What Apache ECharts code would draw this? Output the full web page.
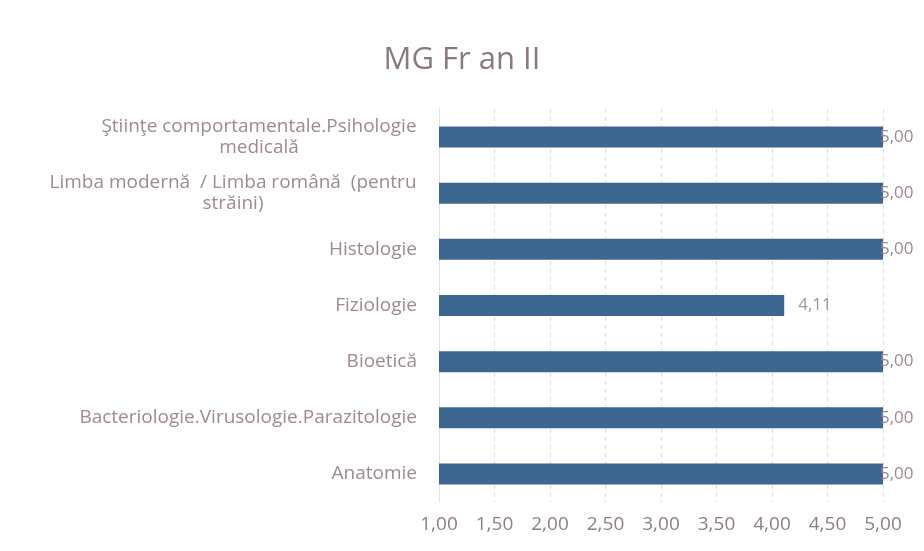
<!DOCTYPE html>
<html>
<head>
<meta charset="utf-8">
<script src="https://cdn.jsdelivr.net/npm/echarts@6/dist/echarts.min.js"></script>
<style>
  html, body { margin: 0; padding: 0; background: #fff; }
  #chart { width: 924px; height: 551px; }
</style>
</head>
<body>
<div id="chart"></div>
<script>
const title = "MG Fr an II";

// bottom to top, as on the axis
const subjects = [
  "Anatomie",
  "Bacteriologie.Virusologie.Parazitologie",
  "Bioetică",
  "Fiziologie",
  "Histologie",
  "Limba modernă  / Limba română  (pentru\nstrăini)",
  "Ştiinţe comportamentale.Psihologie\nmedicală",
];
const scores = [5.0, 5.0, 5.0, 4.11, 5.0, 5.0, 5.0];

const axisTicks = [1, 1.5, 2, 2.5, 3, 3.5, 4, 4.5, 5];

const FONT = "Open Sans";
const FS = 19;
const labelColor = "#9e8a92";

const fmt = (v) => Number(v).toFixed(2).replace(".", ",");

// width of the first line, so wrapped labels get centred lines in a right-aligned block
const measure = (() => {
  const ctx = document.createElement("canvas").getContext("2d");
  ctx.font = `${FS}px ${FONT}`;
  return (s) => Math.ceil(ctx.measureText(s).width);
})();

const rich = {};
subjects.forEach((s, i) => {
  if (s.includes("\n")) {
    rich["w" + i] = { width: measure(s.split("\n")[0]), align: "center", lineHeight: 21, color: labelColor, fontSize: FS, fontFamily: FONT };
  }
});

const chart = echarts.init(document.getElementById("chart"), null, { renderer: "canvas" });

chart.setOption({
  animation: false,
  title: {
    text: title,
    left: "center",
    top: 40,
    textStyle: { color: "#8a7a80", fontSize: 31, fontWeight: "normal", fontFamily: FONT },
  },
  grid: { left: 439, right: 41, top: 109, bottom: 49, containLabel: false },
  xAxis: {
    type: "value",
    min: axisTicks[0],
    max: axisTicks[axisTicks.length - 1],
    interval: 0.5,
    axisLine: { show: false },
    axisTick: { show: false },
    axisLabel: { color: "#8e7e86", fontSize: FS, fontFamily: FONT, margin: 13, formatter: fmt },
    splitLine: { lineStyle: { color: "#dcdcdc", type: [4, 4], width: 1 } },
  },
  yAxis: {
    type: "category",
    data: subjects,
    axisLine: { show: true, lineStyle: { color: "#e3e3e3" } },
    axisTick: { show: false },
    axisLabel: {
      color: labelColor,
      fontSize: FS,
      fontFamily: FONT,
      margin: 22,
      lineHeight: 21,
      rich,
      formatter: (value) => {
        if (!value.includes("\n")) return value;
        const i = subjects.indexOf(value);
        return value.split("\n").map((l) => `{w${i}|${l}}`).join("\n");
      },
    },
  },
  series: [
    {
      type: "bar",
      // the 5,00 labels are pushed back against the right edge, as in the source
      data: scores.map((v) => ({
        value: v,
        label: v >= 5 ? { distance: -3, color: "#9e8a92" } : { distance: 14, color: "#9a9a9a" },
      })),
      barWidth: 21,
      itemStyle: { color: "#3d6690" },
      label: {
        show: true,
        position: "right",
        fontSize: 17,
        fontFamily: FONT,
        formatter: (p) => fmt(p.value),
      },
    },
  ],
});
</script>
</body>
</html>
